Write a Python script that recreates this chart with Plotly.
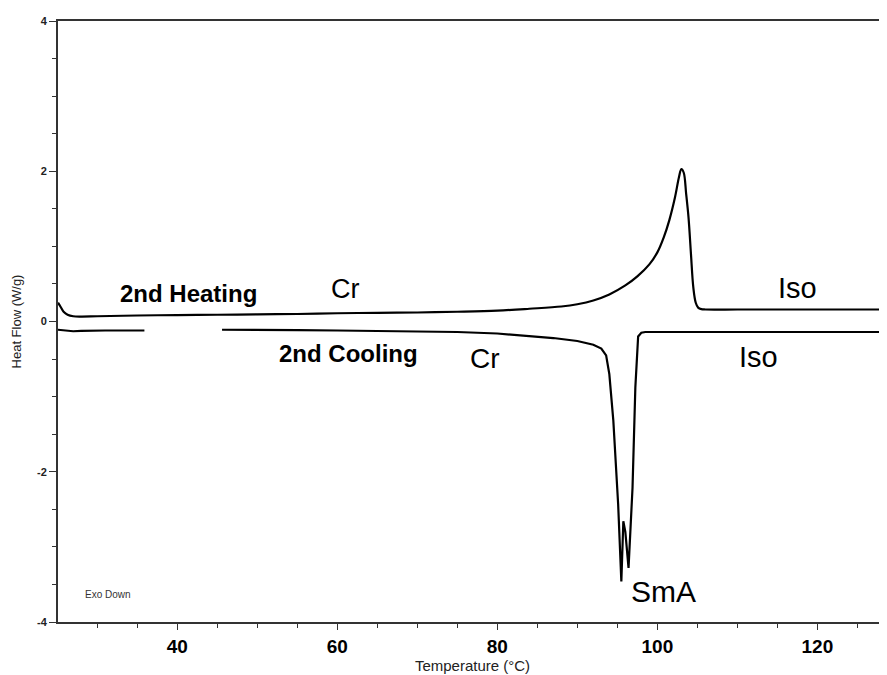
import plotly.graph_objects as go

# Heating curve (2nd heating): temperature (°C) and heat flow (W/g)
heat_T = [25.1, 25.4, 25.8, 26.3, 27.0, 28.0, 30, 35, 40, 45, 50, 55, 60, 65, 70, 75, 80, 84,
          88, 90, 92, 94, 96, 97.5, 99, 100, 100.8, 101.5, 102.2, 102.7, 103.0, 103.3, 103.6,
          103.9, 104.2, 104.5, 104.8, 105.1, 105.5, 106, 110, 115, 120, 125, 128.8]
heat_HF = [0.25, 0.20, 0.13, 0.09, 0.07, 0.066, 0.07, 0.08, 0.085, 0.09, 0.095, 0.10, 0.11, 0.115,
           0.12, 0.13, 0.145, 0.17,
           0.2, 0.23, 0.28, 0.36, 0.48, 0.6, 0.76, 0.92, 1.12, 1.35, 1.65, 1.92, 2.03, 1.98, 1.7,
           1.38, 0.9, 0.45, 0.25, 0.185, 0.165, 0.16, 0.16, 0.16, 0.16, 0.16, 0.16]

# Cooling curve (2nd cooling); None marks the gap in the recorded trace
cool_T = [25.1, 26, 27, 28, 29, 31, 34, 35.9, 36.0, 45.6, 50, 55, 60, 65, 70, 75, 80, 84, 87,
          90, 92, 93, 93.6, 94, 94.5, 95.1, 95.5, 95.75, 96.0, 96.4, 96.9, 97.25, 97.6, 98,
          98.5, 100, 105, 110, 115, 120, 125, 128.8]
cool_HF = [-0.11, -0.12, -0.13, -0.125, -0.12, -0.12, -0.12, -0.12, None, -0.11, -0.11, -0.115,
           -0.12, -0.125, -0.13, -0.14, -0.16, -0.19, -0.22,
           -0.26, -0.31, -0.36, -0.45, -0.7, -1.32, -2.43, -3.46, -2.66, -2.8, -3.28, -2.21,
           -0.88, -0.2, -0.15, -0.14, -0.14, -0.14, -0.14, -0.14, -0.14, -0.14, -0.14]

# Axis ticks
x_tickvals = [40, 60, 80, 100, 120]
y_tickvals = [-4, -2, 0, 2, 4]
y_ticktext = ["-4", "-2", "0", "2", "4"]

# Phase labels
label_text = ["2nd Heating", "Cr", "Iso", "2nd Cooling", "Cr", "Iso", "SmA", "Exo Down"]
label_T = [41.4, 61.0, 117.5, 61.4, 78.5, 112.6, 100.8, 31.3]
label_HF = [0.37, 0.43, 0.45, -0.43, -0.49, -0.47, -3.6, -3.63]

fig = go.Figure()
fig.add_trace(go.Scatter(x=heat_T, y=heat_HF, mode="lines",
                         line=dict(color="black", width=2.2), name="2nd Heating",
                         line_shape="spline"))
fig.add_trace(go.Scatter(x=cool_T, y=cool_HF, mode="lines",
                         line=dict(color="black", width=2.2), name="2nd Cooling",
                         connectgaps=False))

styles = [
    dict(size=24, weight="bold"),
    dict(size=27, weight="normal"),
    dict(size=29, weight="normal"),
    dict(size=24, weight="bold"),
    dict(size=28, weight="normal"),
    dict(size=29, weight="normal"),
    dict(size=30, weight="normal"),
    dict(size=10, weight="normal"),
]
for t, xv, yv, st in zip(label_text, label_T, label_HF, styles):
    fig.add_annotation(x=xv, y=yv, xref="x", yref="y", text=t, showarrow=False,
                       font=dict(family="Liberation Sans, Arial, sans-serif",
                                 size=st["size"], weight=st["weight"],
                                 color="#333" if t == "Exo Down" else "black"))

# The page body adds an 8 px offset, so the figure is sized to fill the rest of the window
fig.update_layout(
    width=879, height=667,
    margin=dict(l=50, r=0, t=13, b=53),
    paper_bgcolor="white", plot_bgcolor="white",
    showlegend=False,
    font=dict(family="Liberation Sans, Arial, sans-serif", color="black"),
)
fig.update_xaxes(
    range=[25.1, 128.7], tickvals=x_tickvals,
    automargin=False,
    showgrid=False, zeroline=False,
    showline=True, linecolor="#333", linewidth=2, mirror=True,
    ticks="outside", ticklen=6, tickwidth=1, tickcolor="#333",
    minor=dict(tick0=0, dtick=5, ticks="outside", ticklen=4, tickcolor="#333", showgrid=False),
    tickfont=dict(family="Liberation Sans Narrow, Liberation Sans, Arial", size=19,
                  weight="bold", color="black"),
    title=dict(text="Temperature (°C)", standoff=2,
               font=dict(size=15, color="#222")),
)
fig.update_yaxes(
    range=[-4, 4], tickvals=y_tickvals, ticktext=y_ticktext,
    automargin=False,
    showgrid=False, zeroline=False,
    showline=True, linecolor="#333", linewidth=2, mirror=False,
    ticks="outside", ticklen=7, tickwidth=1, tickcolor="#333",
    minor=dict(tick0=0, dtick=0.5, ticks="outside", ticklen=4, tickcolor="#333", showgrid=False),
    tickfont=dict(size=11, weight="bold", color="#222"),
    title=dict(text="Heat Flow (W/g)", standoff=12,
               font=dict(size=13, color="#222")),
)

fig.write_html("out.html")
